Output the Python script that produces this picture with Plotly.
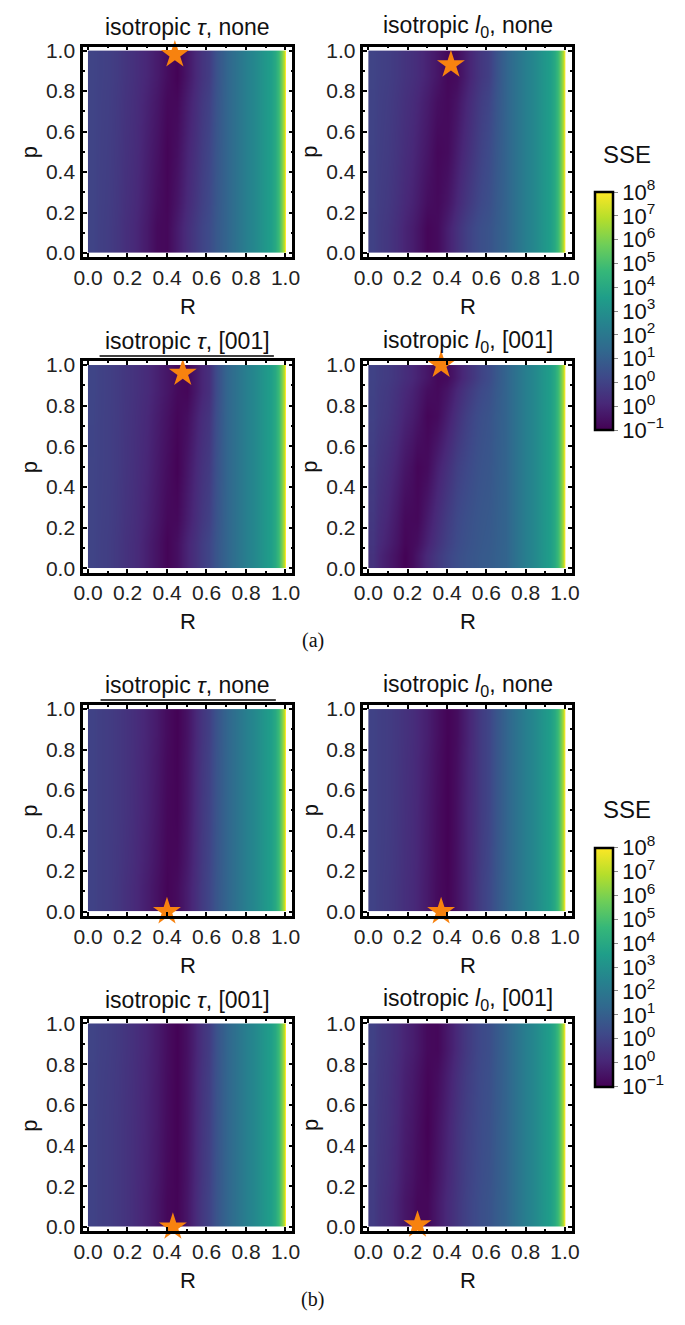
import plotly.graph_objects as go

W, H = 685, 1325

# ---------------- data ----------------
R_GRID = [0.0, 0.1, 0.2, 0.25, 0.3, 0.35, 0.4, 0.45, 0.5, 0.55, 0.6, 0.7, 0.8, 0.9, 0.95, 0.98, 1.0]
P_GRID_3 = [0.0, 0.5, 1.0]
P_GRID_5 = [0.0, 0.25, 0.5, 0.75, 1.0]
# colour-bar units: 0 -> 10^-1 ... 10 -> 10^8 ; values for R = 0.7 .. 1.0 (common to all panels)
TAIL_LEVELS = [3.2, 4.3, 5.2, 6.0, 7.8, 10.0]

# rows at the panel's p grid ; values for R = 0 .. 0.6
A_TAU_NONE = [
    [2.05, 1.80, 1.35, 1.05, 0.70, 0.25, 0.20, 0.75, 1.30, 1.80, 2.30],
    [2.05, 1.85, 1.45, 1.20, 0.85, 0.50, 0.10, 0.40, 1.00, 1.50, 2.10],
    [2.05, 1.90, 1.55, 1.30, 1.05, 0.75, 0.35, 0.05, 0.60, 1.20, 1.80],
]
A_L0_NONE = [
    [1.95, 1.60, 1.00, 0.60, 0.15, 0.30, 0.85, 1.40, 1.90, 2.30, 2.60],
    [2.00, 1.75, 1.30, 0.95, 0.60, 0.20, 0.30, 0.80, 1.30, 1.80, 2.30],
    [2.05, 1.85, 1.50, 1.25, 0.95, 0.60, 0.20, 0.30, 0.85, 1.40, 1.90],
]
A_TAU_001 = [
    [2.05, 1.85, 1.45, 1.20, 0.85, 0.50, 0.10, 0.40, 1.00, 1.50, 2.10],
    [2.05, 1.90, 1.55, 1.30, 1.05, 0.70, 0.35, 0.05, 0.60, 1.20, 1.75],
    [2.10, 1.90, 1.60, 1.40, 1.20, 0.90, 0.60, 0.25, 0.15, 0.75, 1.35],
]
A_L0_001 = [
    [1.45, 0.75, 0.05, 0.60, 1.20, 1.70, 2.10, 2.40, 2.60, 2.75, 2.90],
    [1.65, 1.05, 0.25, 0.20, 0.75, 1.30, 1.80, 2.20, 2.45, 2.65, 2.80],
    [1.80, 1.30, 0.60, 0.15, 0.30, 0.90, 1.40, 1.90, 2.20, 2.50, 2.70],
    [1.95, 1.60, 1.00, 0.60, 0.15, 0.30, 0.85, 1.40, 1.90, 2.30, 2.60],
    [2.00, 1.75, 1.30, 0.95, 0.60, 0.20, 0.30, 0.80, 1.30, 1.80, 2.30],
]
B_TAU_NONE = [
    [2.00, 1.80, 1.40, 1.10, 0.80, 0.45, 0.10, 0.30, 0.80, 1.40, 2.10],
    [2.00, 1.80, 1.50, 1.20, 0.95, 0.60, 0.20, 0.10, 0.60, 1.30, 2.00],
    [2.00, 1.80, 1.50, 1.25, 1.00, 0.70, 0.30, 0.05, 0.50, 1.20, 1.90],
]
B_L0_NONE = [
    [2.00, 1.75, 1.35, 1.05, 0.70, 0.30, 0.10, 0.50, 1.00, 1.60, 2.20],
    [2.00, 1.80, 1.40, 1.10, 0.75, 0.35, 0.05, 0.45, 1.00, 1.50, 2.10],
    [2.00, 1.80, 1.45, 1.15, 0.85, 0.45, 0.10, 0.35, 0.90, 1.50, 2.10],
]
B_TAU_001 = [
    [2.00, 1.80, 1.50, 1.20, 0.95, 0.60, 0.20, 0.10, 0.60, 1.30, 2.00],
    [2.00, 1.80, 1.50, 1.25, 1.00, 0.70, 0.30, 0.05, 0.50, 1.20, 1.90],
    [2.05, 1.85, 1.55, 1.30, 1.05, 0.75, 0.35, 0.05, 0.45, 1.10, 1.80],
]
B_L0_001 = [
    [1.80, 1.30, 0.60, 0.20, 0.20, 0.70, 1.20, 1.60, 2.00, 2.30, 2.60],
    [1.85, 1.45, 0.80, 0.40, 0.05, 0.50, 1.00, 1.50, 1.90, 2.20, 2.50],
    [1.95, 1.55, 1.00, 0.65, 0.25, 0.20, 0.70, 1.20, 1.70, 2.10, 2.40],
]

PANEL_DATA = [A_TAU_NONE, A_L0_NONE, A_TAU_001, A_L0_001,
              B_TAU_NONE, B_L0_NONE, B_TAU_001, B_L0_001]
PANEL_P = [P_GRID_3, P_GRID_3, P_GRID_3, P_GRID_5,
           P_GRID_3, P_GRID_3, P_GRID_3, P_GRID_3]

# best-fit (star) positions
STAR_R = [0.44, 0.42, 0.48, 0.37, 0.40, 0.37, 0.43, 0.25]
STAR_P = [0.98, 0.93, 0.96, 1.00, 0.00, 0.00, 0.00, 0.01]

TITLES = ["isotropic <i>τ</i>, none", "isotropic <i>l</i><sub>0</sub>, none",
          "isotropic <i>τ</i>, [001]", "isotropic <i>l</i><sub>0</sub>, [001]"] * 2

CBAR_TICKVALS = [0, 1, 2, 3, 4, 5, 6, 7, 8, 9, 10]
CBAR_TICKTEXT = ["10<sup>−1</sup>", "10<sup>0</sup>", "10<sup>0</sup>", "10<sup>1</sup>",
                 "10<sup>2</sup>", "10<sup>3</sup>", "10<sup>4</sup>", "10<sup>5</sup>",
                 "10<sup>6</sup>", "10<sup>7</sup>", "10<sup>8</sup>"]

# ---------------- layout geometry (pixels) ----------------
COLS = [(75, 290), (363, 577)]
ROWS = [(39, 252), (357, 571), (705, 918), (1023, 1237)]
CBARS = [(186, 427), (849, 1091)]
CB_X = 601

FONT = "Liberation Sans, Arial, sans-serif"
SERIF = "Liberation Serif, Times New Roman, serif"


def edges(c):
    return [c[0]] + [(a + b) / 2 for a, b in zip(c[:-1], c[1:])] + [c[-1]]


R_EDGES = edges(R_GRID)

fig = go.Figure()
layout = dict(width=W, height=H, margin=dict(l=0, r=0, t=0, b=0),
              paper_bgcolor="white", plot_bgcolor="white", showlegend=False)
annotations = []
shapes = []

for i in range(8):
    row = i // 2
    col = i % 2
    x0, x1 = COLS[col]
    y0, y1 = ROWS[row]
    n = i + 1
    xa = "x" if n == 1 else f"x{n}"
    ya = "y" if n == 1 else f"y{n}"
    z = [r + TAIL_LEVELS for r in PANEL_DATA[i]]
    show = i in (0, 4)
    hm = go.Heatmap(x=R_EDGES, y=edges(PANEL_P[i]), z=z, zsmooth="best",
                    colorscale="Viridis", zmin=0, zmax=10, showscale=show,
                    xaxis=xa, yaxis=ya)
    if show:
        cb0, cb1 = CBARS[0 if i == 0 else 1]
        hm.colorbar = dict(
            x=CB_X / W, xanchor="left", xpad=0, thickness=18, thicknessmode="pixels",
            len=(cb1 - cb0) / H, lenmode="fraction", y=1 - (cb0 + cb1) / 2 / H,
            yanchor="middle", ypad=0, outlinewidth=2.5, outlinecolor="black",
            tickvals=CBAR_TICKVALS, ticktext=CBAR_TICKTEXT, ticks="outside",
            ticklen=4, tickcolor="#888", tickfont=dict(family=FONT, size=22, color="#111"))
    fig.add_trace(hm)
    fig.add_trace(go.Scatter(x=[STAR_R[i]], y=[STAR_P[i]], mode="markers",
                             marker=dict(symbol="star", size=21, color="#F7820F",
                                         line=dict(width=0)),
                             cliponaxis=False, xaxis=xa, yaxis=ya, hoverinfo="skip"))

    axkey_x = "xaxis" if n == 1 else f"xaxis{n}"
    axkey_y = "yaxis" if n == 1 else f"yaxis{n}"
    common = dict(showgrid=False, zeroline=False, showline=True, linecolor="black",
                  linewidth=2.5, mirror="ticks", ticks="inside", ticklen=4, tickwidth=1.5,
                  tickcolor="black", dtick=0.2, tick0=0, tickformat=".1f",
                  minor=dict(ticks="inside", ticklen=2, dtick=0.1, tickcolor="black"),
                  tickfont=dict(family=FONT, size=21, color="#222"), fixedrange=True)
    layout[axkey_x] = dict(common, domain=[x0 / W, x1 / W], range=[-0.025, 1.035],
                           anchor=ya)
    layout[axkey_y] = dict(common, domain=[1 - y1 / H, 1 - y0 / H], range=[-0.02, 1.02],
                           anchor=xa, ticklabelstandoff=1)

    cx = (x0 + x1) / 2
    annotations.append(dict(text=TITLES[i], x=cx / W, y=1 - (y0 - 20) / H, xref="paper",
                            yref="paper", showarrow=False, xanchor="center", yanchor="middle",
                            font=dict(family=FONT, size=23, color="#111")))
    annotations.append(dict(text="R", x=cx / W, y=1 - (y1 + 50) / H, xref="paper",
                            yref="paper", showarrow=False, xanchor="center", yanchor="middle",
                            font=dict(family=FONT, size=22, color="#111")))
    annotations.append(dict(text="p", x=(20 if col == 0 else 308) / W,
                            y=1 - (y0 + y1) / 2 / H, xref="paper", yref="paper",
                            showarrow=False, xanchor="center", yanchor="middle",
                            textangle=-90, font=dict(family=FONT, size=22, color="#111")))

for cb0, cb1 in CBARS:
    annotations.append(dict(text="SSE", x=634 / W, y=1 - (cb0 - 38) / H, xref="paper",
                            yref="paper", showarrow=False, xanchor="center", yanchor="middle",
                            font=dict(family=FONT, size=24, color="#111")))

for lab, yy in (("(a)", 640), ("(b)", 1306)):
    annotations.append(dict(text=lab, x=311 / W, y=1 - yy / H, xref="paper", yref="paper",
                            showarrow=False, xanchor="center", yanchor="middle",
                            font=dict(family=SERIF, size=20, color="#111")))

for (ux0, ux1, uy) in ((92, 271, 352), (93, 273, 700)):
    shapes.append(dict(type="line", xref="paper", yref="paper", x0=ux0 / W, x1=ux1 / W,
                       y0=1 - uy / H, y1=1 - uy / H, line=dict(color="black", width=1.5)))

layout["annotations"] = annotations
layout["shapes"] = shapes
fig.update_layout(**layout)
fig.write_html("out.html")
